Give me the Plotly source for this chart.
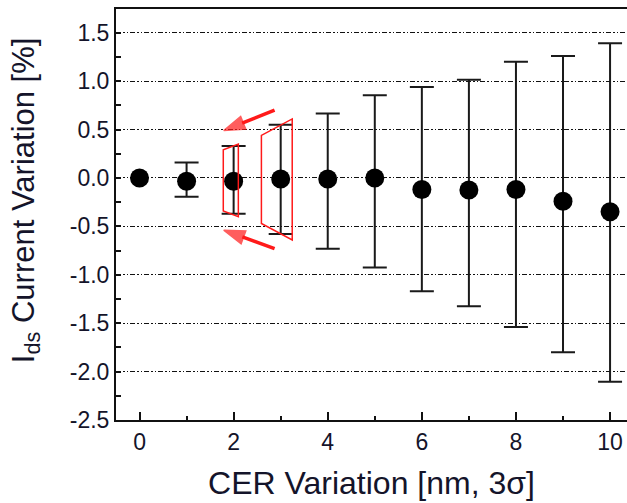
import plotly.graph_objects as go

# CER variation (nm, 3 sigma) and resulting Ids current variation (%)
cer_nm = [0, 1, 2, 3, 4, 5, 6, 7, 8, 9, 10]
ids_mean = [0.0, -0.035, -0.035, -0.01, -0.01, 0.0, -0.12, -0.125, -0.12, -0.24, -0.35]
ids_upper = [0.0, 0.16, 0.33, 0.55, 0.665, 0.855, 0.94, 1.015, 1.20, 1.26, 1.39]
ids_lower = [0.0, -0.195, -0.37, -0.58, -0.73, -0.925, -1.17, -1.325, -1.54, -1.80, -2.105]

y_ticks = [-2.5, -2.0, -1.5, -1.0, -0.5, 0.0, 0.5, 1.0, 1.5]
x_ticks = [0, 2, 4, 6, 8, 10]

FONT = "Liberation Sans, Arial, sans-serif"
TXT = "#14142a"
RED = "#ff1a1a"

# spread bars only where the range is non-zero
bar_idx = [i for i in range(len(cer_nm)) if ids_upper[i] != ids_lower[i]]
bx = [cer_nm[i] for i in bar_idx]
by = [ids_mean[i] for i in bar_idx]
b_plus = [ids_upper[i] - ids_mean[i] for i in bar_idx]
b_minus = [ids_mean[i] - ids_lower[i] for i in bar_idx]

fig = go.Figure()
fig.add_trace(go.Scatter(
    x=bx, y=by, mode="markers",
    marker=dict(size=1, color="rgba(0,0,0,0)"),
    error_y=dict(type="data", symmetric=False, array=b_plus, arrayminus=b_minus,
                 color="#1a1a1a", thickness=2, width=12),
    showlegend=False, hoverinfo="skip",
))
fig.add_trace(go.Scatter(
    x=cer_nm, y=ids_mean, mode="markers",
    marker=dict(size=19, color="black"),
    showlegend=False,
))

# red highlight outlines around the 2 nm and 3 nm spreads
def skew_box(i, left, right, tl, tr, bl, br):
    xc, hi, lo = cer_nm[i], ids_upper[i], ids_lower[i]
    x0, x1 = xc - left, xc + right
    return (f"M {x0},{lo + bl} L {x0},{hi + tl} L {x1},{hi + tr} "
            f"L {x1},{lo + br} Z")

shapes = [
    dict(type="path", xref="x", yref="y",
         path=skew_box(2, 0.22, 0.10, -0.04, 0.02, 0.03, -0.03),
         line=dict(color=RED, width=1.5)),
    dict(type="path", xref="x", yref="y",
         path=skew_box(3, 0.41, 0.245, -0.11, 0.06, 0.11, -0.06),
         line=dict(color=RED, width=1.5)),
]

# red arrows pointing at the 2 nm spread (tail -> head)
for (tx, ty), (hx, hy) in [((2.87, 0.70), (1.79, 0.49)),
                           ((2.87, -0.73), (1.79, -0.54))]:
    fig.add_trace(go.Scatter(
        x=[tx, hx], y=[ty, hy], mode="lines+markers",
        line=dict(color=RED, width=3.5),
        marker=dict(symbol=["circle", "arrow"], size=[0, 22], color=RED,
                    angleref="previous", line=dict(width=1.5, color=RED)),
        showlegend=False, hoverinfo="skip",
    ))

annotations = [
    dict(text="I<sub>ds</sub> Current Variation [%]", textangle=-90,
         xref="paper", yref="paper", x=-0.176, y=0.535,
         xanchor="center", yanchor="middle", showarrow=False,
         font=dict(family=FONT, size=31, color=TXT)),
]

grid_dash = "5px,2px,1.5px,2px,1.5px,2px"

fig.update_layout(
    width=627, height=503,
    margin=dict(l=116, r=0, t=9, b=83),
    paper_bgcolor="white", plot_bgcolor="white",
    font=dict(family=FONT, color=TXT),
    shapes=shapes, annotations=annotations,
    xaxis=dict(
        range=[-0.5, 10.36], tickvals=x_ticks, ticktext=[str(v) for v in x_ticks],
        ticks="inside", ticklen=8, tickwidth=1.5, tickcolor="#111",
        minor=dict(dtick=1, tick0=0, ticks="inside", ticklen=4, tickwidth=1.5,
                   tickcolor="#111", showgrid=False),
        showline=True, linecolor="#111", linewidth=2, mirror=True,
        showgrid=False, zeroline=False,
        tickfont=dict(family=FONT, size=23, color=TXT),
        title=dict(text="CER Variation [nm, 3σ]", standoff=18,
                   font=dict(family=FONT, size=32, color=TXT)),
    ),
    yaxis=dict(
        range=[-2.5, 1.745], tickvals=y_ticks, ticktext=[f"{v:.1f}" for v in y_ticks],
        ticks="inside", ticklen=5, tickwidth=1.5, tickcolor="#111",
        minor=dict(dtick=0.25, tick0=0, ticks="inside", ticklen=5, tickwidth=1.5,
                   tickcolor="#111", showgrid=False),
        showline=True, linecolor="#111", linewidth=2, mirror=False,
        showgrid=True, gridcolor="#111", gridwidth=1, griddash=grid_dash,
        zeroline=False,
        tickfont=dict(family=FONT, size=23, color=TXT),
    ),
)

fig.write_html("out.html")
